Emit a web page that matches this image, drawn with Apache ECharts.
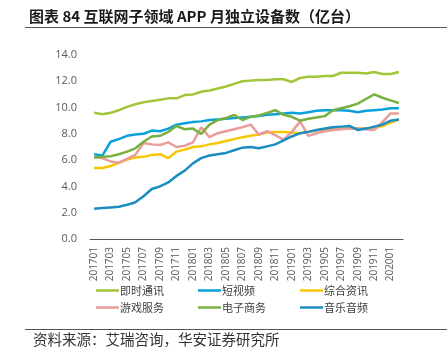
<!DOCTYPE html>
<html><head><meta charset="utf-8">
<script src="https://cdn.jsdelivr.net/npm/echarts@6/dist/echarts.min.js"></script>
<style>html,body{margin:0;padding:0;background:#fff}#c{width:447px;height:357px}</style>
</head><body><div id="c"></div>
<script>
const months = ['201701','201702','201703','201704','201705','201706','201707','201708','201709','201710','201711','201712',
'201801','201802','201803','201804','201805','201806','201807','201808','201809','201810','201811','201812',
'201901','201902','201903','201904','201905','201906','201907','201908','201909','201910','201911','201912',
'202001','202002'];
const yTicks = [0,2,4,6,8,10,12,14];
const imChat = [9.6,9.5,9.6,9.8,10.05,10.25,10.4,10.5,10.6,10.7,10.7,10.95,11.0,11.2,11.3,11.45,11.6,11.8,12.0,12.05,12.1,12.1,12.15,12.15,11.95,12.25,12.35,12.35,12.4,12.4,12.65,12.65,12.65,12.6,12.7,12.55,12.55,12.7];
const shortVideo = [6.45,6.35,7.4,7.6,7.85,7.95,8.0,8.25,8.2,8.4,8.7,8.8,8.9,8.95,9.05,9.1,9.15,9.2,9.25,9.3,9.35,9.45,9.5,9.55,9.6,9.55,9.65,9.75,9.8,9.8,9.8,9.75,9.65,9.75,9.8,9.85,9.95,9.95];
const news = [5.4,5.4,5.55,5.8,6.05,6.2,6.25,6.4,6.45,6.15,6.65,6.8,7.0,7.05,7.2,7.3,7.45,7.6,7.75,7.85,7.95,8.1,8.15,8.15,8.1,8.05,8.15,8.25,8.35,8.4,8.4,8.4,8.4,8.4,8.45,8.6,8.85,9.1];
const games = [6.25,6.15,5.9,5.8,6.1,6.4,7.3,7.2,7.15,7.35,7.0,7.1,7.35,8.5,7.75,8.05,8.2,8.35,8.5,8.7,7.95,8.2,7.9,7.55,8.15,8.95,7.85,8.05,8.2,8.3,8.35,8.4,8.4,8.35,8.3,8.9,9.55,9.55];
const ecommerce = [6.2,6.25,6.3,6.45,6.65,6.9,7.4,7.8,7.85,8.15,8.6,8.35,8.4,8.0,8.7,9.05,9.2,9.45,9.05,9.3,9.4,9.6,9.8,9.45,9.3,9.0,9.15,9.25,9.35,9.8,9.95,10.1,10.3,10.65,11.0,10.75,10.55,10.35];
const music = [2.3,2.35,2.4,2.45,2.6,2.8,3.25,3.8,4.0,4.3,4.8,5.2,5.75,6.15,6.35,6.45,6.55,6.75,6.95,7.0,6.9,7.05,7.2,7.5,7.8,8.05,8.15,8.3,8.4,8.5,8.55,8.6,8.3,8.4,8.55,8.7,9.0,9.1];

const seriesDefs = [
  {name:'即时通讯', data: imChat, color:'#A2C53A'},
  {name:'短视频', data: shortVideo, color:'#0AA0DC'},
  {name:'综合资讯', data: news, color:'#F7C600'},
  {name:'游戏服务', data: games, color:'#E99C9C'},
  {name:'电子商务', data: ecommerce, color:'#79B140'},
  {name:'音乐音频', data: music, color:'#1A8DC2'}
];
const legendPos = [[96,285],[198,285],[300,285],[96,302],[198,302],[300,302]];

const chart = echarts.init(document.getElementById('c'));
chart.setOption({
  animation:false,
  textStyle:{fontFamily:'"Open Sans","Noto Sans CJK SC",sans-serif'},
  title:{text:'图表 84 互联网子领域 APP 月独立设备数（亿台）', left:24, top:4,
    textStyle:{fontSize:15, fontWeight:'bold', color:'#1a1a1a', fontFamily:'"Noto Sans CJK SC",sans-serif'}},
  graphic:[
    {type:'line', shape:{x1:25,y1:27.5,x2:447,y2:27.5}, style:{stroke:'#555',lineWidth:1}},
    {type:'line', shape:{x1:25,y1:329.5,x2:447,y2:329.5}, style:{stroke:'#555',lineWidth:1}},
    {type:'text', left:33, top:332, style:{text:'资料来源：艾瑞咨询，华安证券研究所', fontSize:14.5, fill:'#333', fontFamily:'"Noto Sans CJK SC",sans-serif'}}
  ],
  legend: seriesDefs.map((s,i)=>({data:[s.name], left:legendPos[i][0], top:legendPos[i][1], icon:'rect',
    itemWidth:23, itemHeight:2.5, itemGap:0, padding:0,
    textStyle:{fontSize:11, color:'#404040', padding:[0,0,0,-4], fontFamily:'"Noto Sans CJK SC",sans-serif'}})),
  grid:{left:90, right:44, top:55, bottom:118},
  xAxis:{type:'category', data:months, boundaryGap:true,
    axisTick:{show:false}, axisLine:{lineStyle:{color:'#595959', width:1}},
    axisLabel:{rotate:90, interval:1, fontSize:10, color:'#595959', margin:8}},
  yAxis:{type:'value', min:yTicks[0], max:yTicks[yTicks.length-1], interval:2,
    splitLine:{show:false}, axisLine:{show:false}, axisTick:{show:false},
    axisLabel:{fontSize:11, color:'#595959', margin:13, formatter:v=>v.toFixed(1)}},
  series: seriesDefs.map(s=>({name:s.name, type:'line', data:s.data, showSymbol:false, symbol:'none',
    lineStyle:{color:s.color, width:2.5}, itemStyle:{color:s.color}}))
});
</script></body></html>
